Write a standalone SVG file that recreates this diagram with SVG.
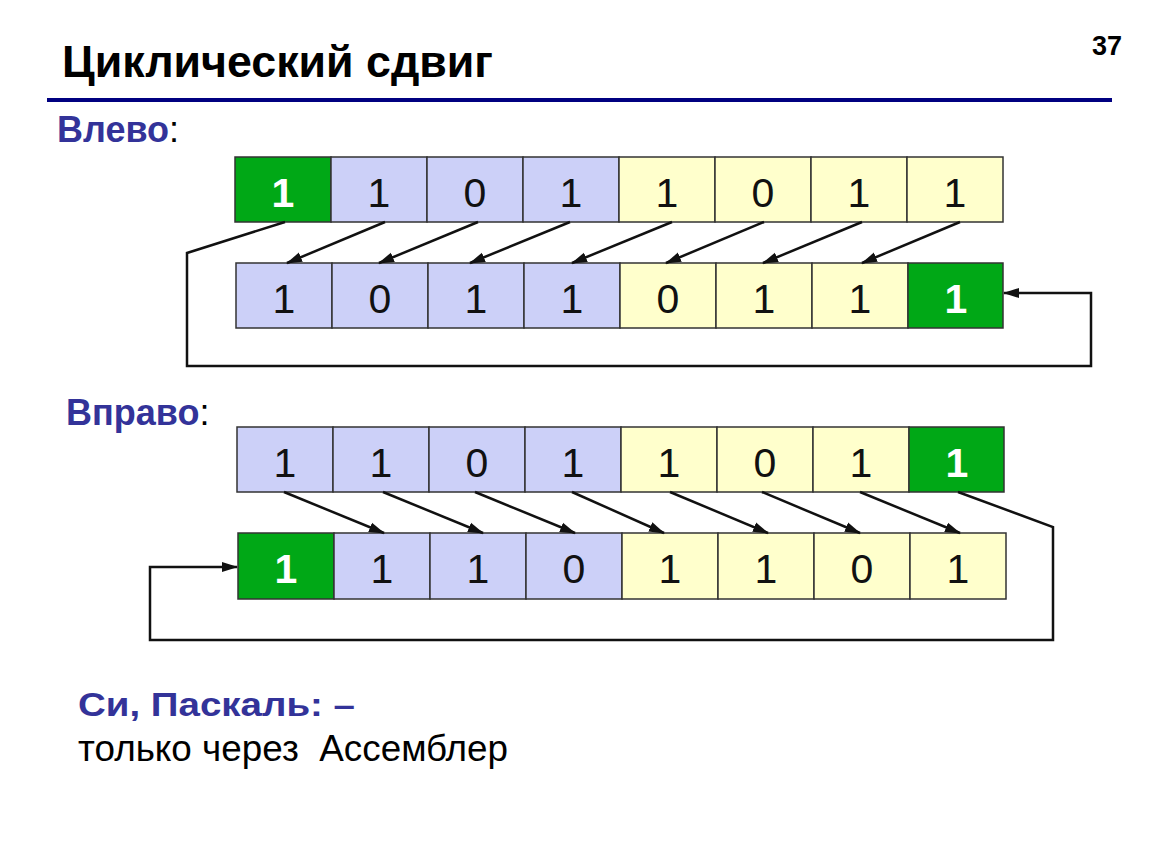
<svg xmlns="http://www.w3.org/2000/svg" width="1150" height="864" viewBox="0 0 1150 864">
<style>
.g{fill:#00A816}.l{fill:#CCD0F8}.y{fill:#FFFFCC}
rect{stroke:#333;stroke-width:1.5}
.d{font-family:"Liberation Sans",Arial,sans-serif;font-size:41px;fill:#111;text-anchor:middle}
.w{fill:#fff;font-weight:bold}
.c{fill:none;stroke:#111;stroke-width:2.5}
.lab{font-family:"Liberation Sans",Arial,sans-serif;font-weight:bold;fill:#333399}
</style>
<defs>
<marker id="ah" markerUnits="userSpaceOnUse" markerWidth="16" markerHeight="12" viewBox="0 0 16 12" refX="15" refY="6" orient="auto">
<path d="M0,1 L16,6 L0,11 z" fill="#111"/>
</marker>
</defs>
<rect x="0" y="0" width="1150" height="864" fill="#fff" style="stroke:none"/>
<text x="62" y="77" font-family="Liberation Sans, Arial, sans-serif" font-weight="bold" font-size="45" fill="#000" textLength="431" lengthAdjust="spacingAndGlyphs">Циклический сдвиг</text>
<text x="1122" y="55" font-family="Liberation Sans, Arial, sans-serif" font-weight="bold" font-size="27" fill="#000" text-anchor="end">37</text>
<line x1="47" y1="100" x2="1112" y2="100" stroke="#000080" stroke-width="4"/>
<text x="57" y="142" class="lab" font-size="36">Влево<tspan fill="#000" font-weight="normal">:</tspan></text>
<text x="66" y="425" class="lab" font-size="36">Вправо<tspan fill="#000" font-weight="normal">:</tspan></text>
<text x="78" y="716" class="lab" font-size="33" textLength="277" lengthAdjust="spacingAndGlyphs">Си, Паскаль: –</text>
<text x="78" y="761" font-family="Liberation Sans, Arial, sans-serif" font-size="37" fill="#000" xml:space="preserve" textLength="430" lengthAdjust="spacingAndGlyphs">только через  Ассемблер</text>

<g id="row1">
<g id="r1c1"><rect class="g" x="235" y="157" width="96" height="65"/><text class="d w" x="283" y="207">1</text></g>
<g id="r1c2"><rect class="l" x="331" y="157" width="96" height="65"/><text class="d" x="379" y="207">1</text></g>
<g id="r1c3"><rect class="l" x="427" y="157" width="96" height="65"/><text class="d" x="475" y="207">0</text></g>
<g id="r1c4"><rect class="l" x="523" y="157" width="96" height="65"/><text class="d" x="571" y="207">1</text></g>
<g id="r1c5"><rect class="y" x="619" y="157" width="96" height="65"/><text class="d" x="667" y="207">1</text></g>
<g id="r1c6"><rect class="y" x="715" y="157" width="96" height="65"/><text class="d" x="763" y="207">0</text></g>
<g id="r1c7"><rect class="y" x="811" y="157" width="96" height="65"/><text class="d" x="859" y="207">1</text></g>
<g id="r1c8"><rect class="y" x="907" y="157" width="96" height="65"/><text class="d" x="955" y="207">1</text></g>
</g>
<g id="row2">
<g id="r2c1"><rect class="l" x="236" y="263" width="96" height="65"/><text class="d" x="284" y="313">1</text></g>
<g id="r2c2"><rect class="l" x="332" y="263" width="96" height="65"/><text class="d" x="380" y="313">0</text></g>
<g id="r2c3"><rect class="l" x="428" y="263" width="96" height="65"/><text class="d" x="476" y="313">1</text></g>
<g id="r2c4"><rect class="l" x="524" y="263" width="96" height="65"/><text class="d" x="572" y="313">1</text></g>
<g id="r2c5"><rect class="y" x="620" y="263" width="96" height="65"/><text class="d" x="668" y="313">0</text></g>
<g id="r2c6"><rect class="y" x="716" y="263" width="96" height="65"/><text class="d" x="764" y="313">1</text></g>
<g id="r2c7"><rect class="y" x="812" y="263" width="96" height="65"/><text class="d" x="860" y="313">1</text></g>
<g id="r2c8"><rect class="g" x="908" y="263" width="95" height="65"/><text class="d w" x="956" y="313">1</text></g>
</g>
<g id="row3">
<g id="r3c1"><rect class="l" x="237" y="427" width="96" height="65"/><text class="d" x="285" y="477">1</text></g>
<g id="r3c2"><rect class="l" x="333" y="427" width="96" height="65"/><text class="d" x="381" y="477">1</text></g>
<g id="r3c3"><rect class="l" x="429" y="427" width="96" height="65"/><text class="d" x="477" y="477">0</text></g>
<g id="r3c4"><rect class="l" x="525" y="427" width="96" height="65"/><text class="d" x="573" y="477">1</text></g>
<g id="r3c5"><rect class="y" x="621" y="427" width="96" height="65"/><text class="d" x="669" y="477">1</text></g>
<g id="r3c6"><rect class="y" x="717" y="427" width="96" height="65"/><text class="d" x="765" y="477">0</text></g>
<g id="r3c7"><rect class="y" x="813" y="427" width="96" height="65"/><text class="d" x="861" y="477">1</text></g>
<g id="r3c8"><rect class="g" x="909" y="427" width="95" height="65"/><text class="d w" x="957" y="477">1</text></g>
</g>
<g id="row4">
<g id="r4c1"><rect class="g" x="238" y="533" width="96" height="66"/><text class="d w" x="286" y="583">1</text></g>
<g id="r4c2"><rect class="l" x="334" y="533" width="96" height="66"/><text class="d" x="382" y="583">1</text></g>
<g id="r4c3"><rect class="l" x="430" y="533" width="96" height="66"/><text class="d" x="478" y="583">1</text></g>
<g id="r4c4"><rect class="l" x="526" y="533" width="96" height="66"/><text class="d" x="574" y="583">0</text></g>
<g id="r4c5"><rect class="y" x="622" y="533" width="96" height="66"/><text class="d" x="670" y="583">1</text></g>
<g id="r4c6"><rect class="y" x="718" y="533" width="96" height="66"/><text class="d" x="766" y="583">1</text></g>
<g id="r4c7"><rect class="y" x="814" y="533" width="96" height="66"/><text class="d" x="862" y="583">0</text></g>
<g id="r4c8"><rect class="y" x="910" y="533" width="96" height="66"/><text class="d" x="958" y="583">1</text></g>
</g>

<g id="connectors" class="c">
<line x1="385" y1="222" x2="287" y2="263" marker-end="url(#ah)"/>
<line x1="478" y1="222" x2="379" y2="263" marker-end="url(#ah)"/>
<line x1="570" y1="222" x2="470" y2="263" marker-end="url(#ah)"/>
<line x1="672" y1="222" x2="572" y2="263" marker-end="url(#ah)"/>
<line x1="764" y1="222" x2="666" y2="263" marker-end="url(#ah)"/>
<line x1="862" y1="222" x2="763" y2="263" marker-end="url(#ah)"/>
<line x1="960" y1="222" x2="862" y2="263" marker-end="url(#ah)"/>
<path d="M285,222 L187,253 L187,366 L1091,366 L1091,293 L1004,293" marker-end="url(#ah)"/>
<line x1="284" y1="492" x2="384" y2="533" marker-end="url(#ah)"/>
<line x1="383" y1="492" x2="483" y2="533" marker-end="url(#ah)"/>
<line x1="475" y1="492" x2="575" y2="533" marker-end="url(#ah)"/>
<line x1="572" y1="492" x2="664" y2="533" marker-end="url(#ah)"/>
<line x1="670" y1="492" x2="768" y2="533" marker-end="url(#ah)"/>
<line x1="762" y1="492" x2="860" y2="533" marker-end="url(#ah)"/>
<line x1="860" y1="492" x2="960" y2="533" marker-end="url(#ah)"/>
<path d="M958,492 L1053,527 L1053,640 L150,640 L150,567 L237,567" marker-end="url(#ah)"/>
</g>
</svg>
